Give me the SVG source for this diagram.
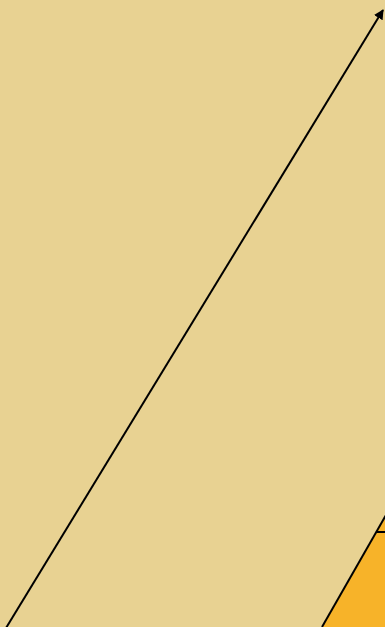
<svg xmlns="http://www.w3.org/2000/svg" width="385" height="627" viewBox="0 0 385 627">
<defs>
<marker id="ah" viewBox="0 0 10 10" refX="9" refY="5" markerWidth="10" markerHeight="10" markerUnits="userSpaceOnUse" orient="auto"><path d="M0,0 L10,5 L0,10 z" fill="#000"/></marker>
<style>.ln{stroke:#000;stroke-width:2;fill:none}</style>
</defs>
<rect width="385" height="627" fill="#E8D292"/>
<g id="orange">
<polygon points="322,627 385,516 385,627" fill="#F7B329"/>
<line class="ln" x1="322" y1="627" x2="386" y2="515"/>
<line class="ln" x1="377" y1="532" x2="385" y2="532"/>
</g>
<g id="connectors">
<line class="ln" x1="6" y1="628" x2="383" y2="10" marker-end="url(#ah)"/>
</g>
</svg>
